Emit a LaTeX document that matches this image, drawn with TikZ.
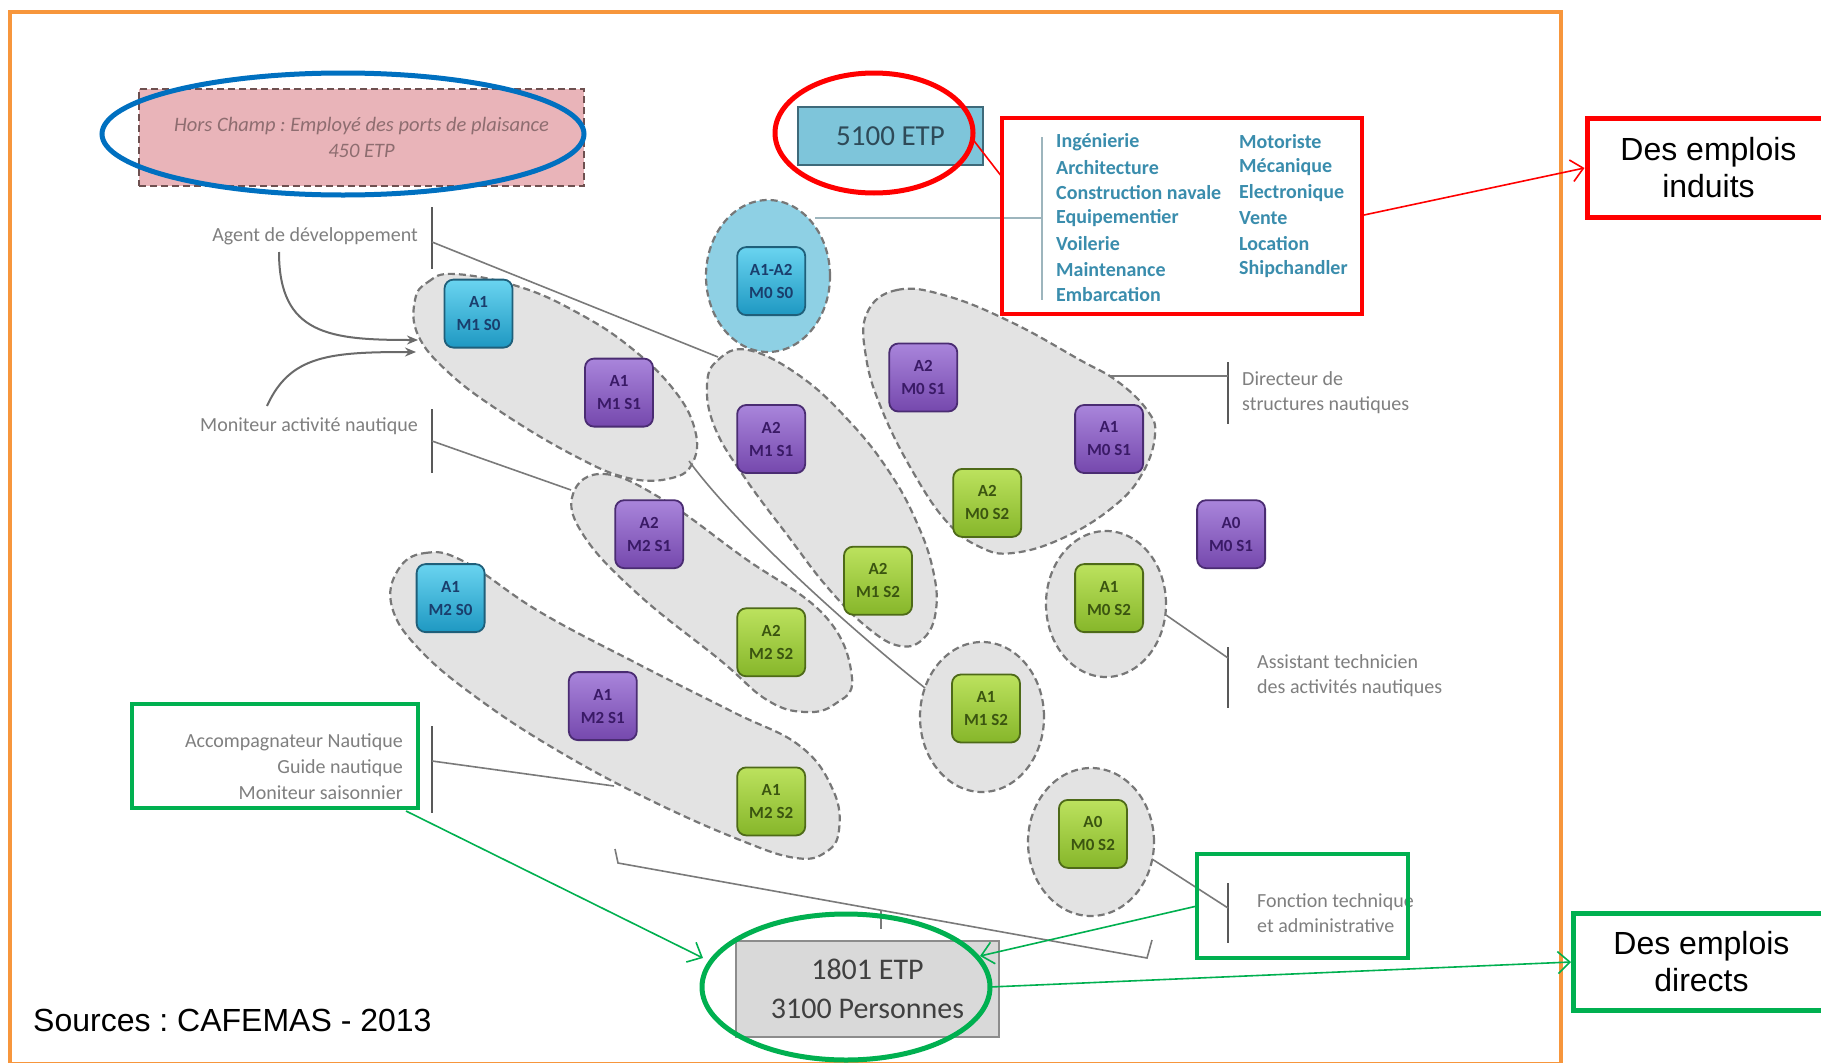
\documentclass[tikz,border=0pt]{standalone}
\usepackage{fontspec}
\setmainfont{Carlito}
\newfontfamily\arialf{Liberation Sans}
\usetikzlibrary{shapes.geometric,arrows.meta}
\frenchspacing
\definecolor{orangeF}{HTML}{F7963C}
\definecolor{redH}{HTML}{FF0000}
\definecolor{blueH}{HTML}{0070C0}
\definecolor{greenH}{HTML}{00B050}
\definecolor{blobF}{HTML}{E3E3E3}
\definecolor{blobD}{HTML}{777777}
\definecolor{labC}{HTML}{7F7F7F}
\definecolor{barC}{HTML}{595959}
\definecolor{cyT}{HTML}{6AD4F0}
\definecolor{cyB}{HTML}{1E98C2}
\definecolor{cyD}{HTML}{1F5F7A}
\definecolor{cyTx}{HTML}{1A3E6C}
\definecolor{puT}{HTML}{A985DB}
\definecolor{puB}{HTML}{7548AD}
\definecolor{puD}{HTML}{4A2C72}
\definecolor{puTx}{HTML}{3A1A66}
\definecolor{grT}{HTML}{BCE25E}
\definecolor{grB}{HTML}{86B62A}
\definecolor{grD}{HTML}{4E6A18}
\definecolor{grTx}{HTML}{3B5510}
\definecolor{pinkF}{HTML}{E9B4B9}
\definecolor{pinkD}{HTML}{6E5050}
\definecolor{pinkTx}{HTML}{8E6D70}
\definecolor{lightB}{HTML}{8ED0E4}
\definecolor{etpF}{HTML}{7EC5DA}
\definecolor{etpD}{HTML}{3E6A7A}
\definecolor{etpTx}{HTML}{2E4A58}
\definecolor{lstTx}{HTML}{3A8DAD}
\definecolor{lstLn}{HTML}{9DB5BD}
\definecolor{grayF}{HTML}{D9D9D9}
\definecolor{grayD}{HTML}{8C8C8C}
\definecolor{grayTx}{HTML}{404040}
\begin{document}
\begin{tikzpicture}[x=1pt,y=-1pt,
  sq/.style={rounded corners=9pt, minimum width=68pt, minimum height=68pt, inner sep=0pt,
    align=center, font=\bfseries\fontsize{17}{23}\selectfont, line width=1.8pt},
  cy/.style={sq, draw=cyD, top color=cyT, bottom color=cyB, text=cyTx},
  pu/.style={sq, draw=puD, top color=puT, bottom color=puB, text=puTx},
  gr/.style={sq, draw=grD, top color=grT, bottom color=grB, text=grTx},
  blob/.style={fill=blobF, draw=blobD, dash pattern=on 7pt off 4pt, line width=2.2pt},
  circ/.style={ellipse, inner sep=0pt, fill=blobF, draw=blobD, dash pattern=on 7pt off 4pt, line width=2.2pt},
  lab/.style={text=labC, font=\fontsize{20}{25}\selectfont, inner sep=0pt},
  lst/.style={text=lstTx, font=\bfseries\fontsize{20}{25}\selectfont, inner sep=0pt, anchor=west},
  bar/.style={draw=barC, line width=1.6pt},
  conn/.style={draw=barC!80, line width=1.6pt},
  hl/.style={ellipse, inner sep=0pt, line width=5pt},
  big/.style={line width=5pt, inner sep=0pt, align=center, font=\arialf\fontsize{32}{37}\selectfont},
  redarr/.style={draw=redH, line width=1.6pt, -{Straight Barb[length=12pt,width=22pt]}},
  grarr/.style={draw=greenH, line width=1.6pt, -{Straight Barb[length=12pt,width=22pt]}},
  curvarr/.style={draw=barC!90, line width=2pt, -{Stealth[length=11pt,width=9pt]}}
]
\useasboundingbox (0,0) rectangle (1821,1063);
\fill[white] (0,0) rectangle (1821,1063);
\draw[orangeF, line width=4pt] (10,12) rectangle (1561,1064);

% blobs
\draw[blob] plot[smooth cycle, tension=0.7] coordinates {(415,300) (428,282) (455,274) (520,287) (578,313) (630,347) (674,390) (695,430) (693,462) (672,478) (628,478) (573,455) (501,412) (448,372) (418,335)};
\draw[blob] plot[smooth cycle, tension=0.7] coordinates {(707,385) (718,360) (748,350) (800,376) (850,422) (890,473) (917,523) (933,570) (936,610) (924,638) (900,646) (868,628) (828,588) (788,536) (745,478) (715,428)};
\draw[blob] plot[smooth cycle, tension=0.7] coordinates {(867,313) (897,290) (947,296) (1013,323) (1080,360) (1117,381) (1147,410) (1155,435) (1142,474) (1113,507) (1063,538) (1013,553) (980,547) (947,522) (913,472) (882,410) (866,357)};
\draw[blob] plot[smooth cycle, tension=0.7] coordinates {(573,494) (604,474) (662,499) (743,557) (825,616) (852,678) (835,704) (805,712) (767,700) (720,660) (639,595) (584,536)};
\draw[blob] plot[smooth cycle, tension=0.7] coordinates {(398,570) (425,553) (465,562) (540,612) (640,665) (733,712) (800,746) (833,790) (839,830) (826,852) (796,858) (740,840) (650,800) (560,752) (480,700) (420,650) (392,607)};

% circles
\node[circ, fill=lightB, minimum width=124pt, minimum height=152pt] (cblue) at (768,276) {};
\node[circ, minimum width=120pt, minimum height=146pt] (c1) at (1106,604) {};
\node[circ, minimum width=124pt, minimum height=150pt] (c2) at (982,717) {};
\node[circ, minimum width=126pt, minimum height=148pt] (c3) at (1091,842) {};

% connector coordinates
\coordinate (agT) at (432,207); \coordinate (agB) at (432,269);
\coordinate (agL) at (432,242); \coordinate (b2t) at (718,357);
\coordinate (moT) at (432,409); \coordinate (moB) at (432,473);
\coordinate (moL) at (432,441); \coordinate (b4t) at (571,490);
\coordinate (acT) at (432,726); \coordinate (acB) at (432,813);
\coordinate (acL) at (432,761); \coordinate (b5b) at (614,786);
\coordinate (b1e) at (689,461); \coordinate (c2w) at (925,688);
\coordinate (drT) at (1228,362); \coordinate (drB) at (1228,424);
\coordinate (drL) at (1228,376); \coordinate (b3e) at (1110,376);
\coordinate (asT) at (1228,647); \coordinate (asB) at (1228,708);
\coordinate (asL) at (1228,658); \coordinate (c1e) at (1166,615);
\coordinate (fnT) at (1228,883); \coordinate (fnB) at (1228,943);
\coordinate (fnL) at (1228,908); \coordinate (c3e) at (1152,859);
\coordinate (lsT) at (1042,137); \coordinate (lsB) at (1042,300);
\coordinate (lsM) at (1042,218); \coordinate (cbe) at (815,218);
\coordinate (brA) at (615,849); \coordinate (brB) at (618,863);
\coordinate (brC) at (1147,958); \coordinate (brD) at (1152,940);
\coordinate (brM) at (881,910); \coordinate (brN) at (881,929);

\draw[bar] (agT) -- (agB);
\draw[bar] (moT) -- (moB);
\draw[bar] (acT) -- (acB);
\draw[bar] (drT) -- (drB);
\draw[bar] (asT) -- (asB);
\draw[bar] (fnT) -- (fnB);
\draw[conn] (agL) -- (b2t);
\draw[conn] (moL) -- (b4t);
\draw[conn] (acL) -- (b5b);
\draw[conn] (b1e) .. controls (739,529) and (853,631) .. (c2w);
\draw[conn] (b3e) -- (drL);
\draw[conn] (c1e) -- (asL);
\draw[conn] (c3e) -- (fnL);
\draw[conn] (brA) -- (brB) -- (brC) -- (brD);
\draw[conn] (brM) -- (brN);
\draw[lstLn, line width=1.8pt] (lsT) -- (lsB);
\draw[lstLn, line width=1.8pt] (cbe) -- (lsM);

% squares
\node[cy] (s1) at (478.5,313.6) {A1\\M1 S0};
\node[pu] (s2) at (619,392.6) {A1\\M1 S1};
\node[cy] (s3) at (771.2,281.1) {A1-A2\\M0 S0};
\node[pu] (s4) at (771.2,439) {A2\\M1 S1};
\node[pu] (s5) at (923.3,377.5) {A2\\M0 S1};
\node[pu] (s6) at (1109.1,439) {A1\\M0 S1};
\node[gr] (s7) at (987.2,502.9) {A2\\M0 S2};
\node[pu] (s8) at (649.2,534.2) {A2\\M2 S1};
\node[pu] (s9) at (1231.1,534.2) {A0\\M0 S1};
\node[gr] (s10) at (878,580.7) {A2\\M1 S2};
\node[cy] (s11) at (450.6,598.1) {A1\\M2 S0};
\node[gr] (s12) at (1109.1,598.1) {A1\\M0 S2};
\node[gr] (s13) at (771.2,642.3) {A2\\M2 S2};
\node[pu] (s14) at (602.8,706.1) {A1\\M2 S1};
\node[gr] (s15) at (986,708.5) {A1\\M1 S2};
\node[gr] (s16) at (771.2,801.4) {A1\\M2 S2};
\node[gr] (s17) at (1092.9,833.9) {A0\\M0 S2};

% gray labels
\node[lab, anchor=east] (agent) at (418,236) {Agent de développement};
\node[lab, anchor=east] (monit) at (418,426) {Moniteur activité nautique};
\node[lab, anchor=west, align=left] (direc) at (1242,393) {Directeur de\\structures nautiques};
\node[lab, anchor=west, align=left] (assis) at (1257,676) {Assistant technicien\\des activités nautiques};
\node[lab, anchor=west, align=left] (fonct) at (1257,913) {Fonction technique\\et administrative};
\node[lab, anchor=east, align=right, font=\fontsize{20}{26}\selectfont] (accom) at (403,767) {Accompagnateur Nautique\\Guide nautique\\Moniteur saisonnier};

\coordinate (agS) at (279,252); \coordinate (agE) at (418,340);
\coordinate (moS) at (267,406); \coordinate (moE) at (416,352);
\draw[curvarr] (agS) .. controls (279,335) and (330,340) .. (agE);
\draw[curvarr] (moS) .. controls (290,355) and (330,352) .. (moE);

% hors champ
\node[fill=pinkF, draw=pinkD, dash pattern=on 7pt off 4pt, line width=2pt, minimum width=445pt, minimum height=97pt,
  align=center, text=pinkTx, font=\itshape\fontsize{20.5}{26}\selectfont] (hors) at (361.5,137.5) {Hors Champ : Employé des ports de plaisance\\450 ETP};
\node[hl, draw=blueH, minimum width=482pt, minimum height=122pt] (blueEll) at (343,134) {};

% 5100 ETP
\node[draw=etpD, fill=etpF, line width=2.5pt, minimum width=185pt, minimum height=58pt, inner sep=0pt,
  font=\fontsize{29}{34}\selectfont, text=etpTx] (etp) at (890.5,136) {5100 ETP};
\node[hl, draw=redH, minimum width=198pt, minimum height=120pt] (redEll) at (874,133) {};

% list
\node[draw=redH, line width=4.5pt, minimum width=360pt, minimum height=196pt, inner sep=0pt] (lbox) at (1182,216) {};
\foreach \t [count=\i] in {Ingénierie, Architecture, Construction navale, Equipementier, Voilerie, Maintenance, Embarcation}
  \node[lst, name=la\i] at (1056, {142+25.5*(\i-1)}) {\t};
\foreach \t [count=\i] in {Motoriste, Mécanique, Electronique, Vente, Location, Shipchandler}
  \node[lst, name=lb\i] at (1239, {142+25.5*(\i-1)}) {\t};

\coordinate (reA) at (971,137); \coordinate (reB) at (1002,177);
\draw[redH, line width=1.6pt] (reA) -- (reB);

% right boxes
\node[big, draw=redH, minimum width=243pt, minimum height=99pt] (induits) at (1708.5,167.5) {Des emplois\\induits};
\node[big, draw=greenH, minimum width=257pt, minimum height=97pt] (directs) at (1701.5,961.5) {Des emplois\\directs};
\coordinate (raS) at (1364,215);
\draw[redarr] (raS) -- (induits.west |- 0,168);

% 1801
\node[draw=grayD, fill=grayF, line width=2pt, minimum width=263pt, minimum height=96pt, inner sep=0pt, align=center,
  text=grayTx, font=\fontsize{30}{39}\selectfont] (etp2) at (867.5,989) {1801 ETP\\3100 Personnes};
\node[hl, draw=greenH, minimum width=288pt, minimum height=146pt] (grEll) at (846,987) {};

% green boxes
\node[draw=greenH, line width=4.5pt, minimum width=286pt, minimum height=104pt, inner sep=0pt] (accbox) at (275,756) {};
\node[draw=greenH, line width=4.5pt, minimum width=211pt, minimum height=104pt, inner sep=0pt] (fnbox) at (1302.5,906) {};

\coordinate (gaS) at (406,811); \coordinate (gaE) at (703,958);
\coordinate (gbS) at (1197,906); \coordinate (gbE) at (980,956);
\coordinate (gcS) at (990,987); \coordinate (gcE) at (1571,962);
\draw[grarr] (gaS) -- (gaE);
\draw[grarr] (gbS) -- (gbE);
\draw[grarr] (gcS) -- (gcE);

% sources
\node[anchor=base west, inner sep=0pt, font=\arialf\fontsize{32}{37}\selectfont] (src) at (33,1031) {Sources : CAFEMAS - 2013};
\end{tikzpicture}
\end{document}
